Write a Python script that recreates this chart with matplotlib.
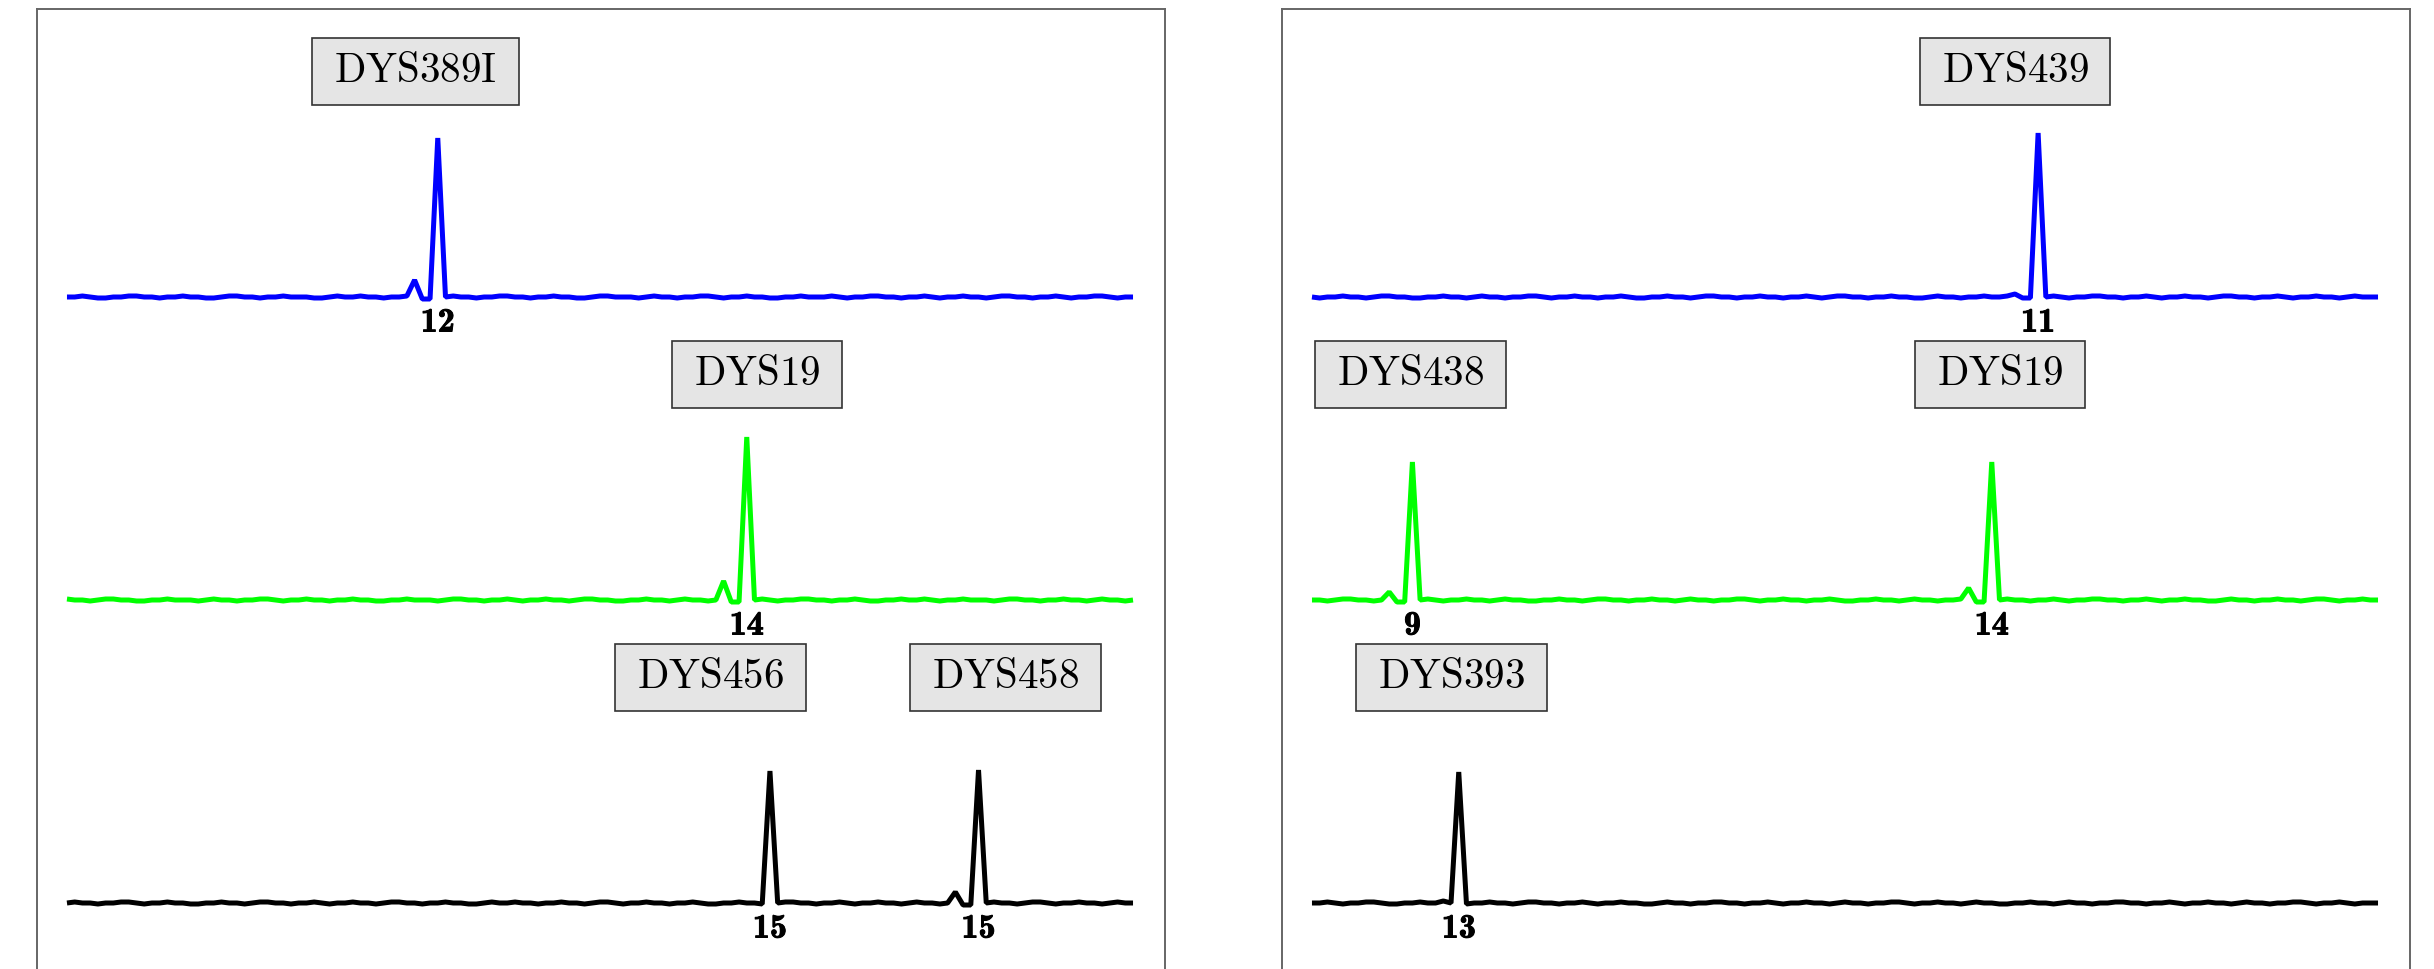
import matplotlib
matplotlib.use("Agg")
import matplotlib.pyplot as plt
import matplotlib.patheffects as pe
from matplotlib.patches import Rectangle

plt.rcParams["mathtext.fontset"] = "cm"

# baseline wiggle of each channel, one value per scan point (heights in RFU-ish units)
l_blue_noise = [0, 0, 1, 0, -1, -1, 0, 0, 1, 1, 0, 0, -1, 0, 0, 1, 0, 0, -1, -1,
                0, 1, 1, 0, 0, -1, 0, 0, 1, 0, 0, 0, -1, -1, 0, 1, 0, 0, 1, 0,
                0, -1, 0, 0, 1, 0, -2, -2, 0, 0, 1, 0, 0, -1, 0, 0, 1, 1, 0, 0,
                -1, 0, 0, 1, 0, 0, -1, -1, 0, 1, 1, 0, 0, 0, -1, 0, 1, 0, 0, -1,
                0, 0, 1, 1, 0, -1, 0, 0, 1, 0, 0, -1, -1, 0, 0, 1, 0, 0, 0, 1,
                0, -1, 0, 0, 1, 1, 0, 0, -1, 0, 0, 1, 0, -1, 0, 0, 1, 0, 0, -1,
                0, 1, 1, 0, 0, -1, 0, 0, 1, 0, -1, 0, 0, 1, 1, 0, -1, 0, 0]
l_green_noise = [1, 0, 0, -1, 0, 1, 1, 0, 0, -1, -1, 0, 0, 1, 0, 0, 0, -1, 0, 1,
                 0, 0, -1, 0, 0, 1, 1, 0, -1, 0, 0, 1, 0, 0, -1, 0, 0, 1, 0, 0,
                 -1, -1, 0, 0, 1, 0, 0, 0, -1, 0, 1, 1, 0, 0, -1, 0, 0, 1, 0, -1,
                 0, 0, 1, 0, 0, -1, 0, 1, 1, 0, 0, -1, -1, 0, 0, 1, 0, 0, -1, 0,
                 1, 0, 0, -1, 0, 0, -2, -2, 0, 0, 1, 0, -1, 0, 0, 1, 1, 0, 0, -1,
                 0, 0, 1, 0, -1, -1, 0, 0, 1, 0, 0, 1, 0, -1, 0, 0, 1, 0, 0, 0,
                 -1, 0, 1, 1, 0, 0, -1, 0, 0, 1, 0, 0, -1, 0, 1, 0, 0, -1, 0]
l_black_noise = [0, 1, 0, 0, -1, 0, 0, 1, 1, 0, -1, 0, 0, 1, 0, 0, -1, -1, 0, 0,
                 1, 0, 0, -1, 0, 1, 1, 0, 0, -1, 0, 0, 1, 0, -1, 0, 0, 1, 0, 0,
                 -1, 0, 1, 1, 0, 0, -1, 0, 0, 1, 0, 0, -1, -1, 0, 1, 0, 0, 1, 0,
                 0, -1, 0, 0, 1, 0, 0, -1, 0, 1, 1, 0, -1, 0, 0, 1, 0, 0, -1, 0,
                 0, 1, 0, -1, -1, 0, 0, 1, 0, 0, -1, 0, 0, 1, 1, 0, 0, -1, 0, 0,
                 1, 0, -1, 0, 0, 1, 0, 0, -1, 0, 1, 0, 0, -1, 0, 0, -2, -2, 0, 0,
                 1, 0, 0, -1, 0, 1, 1, 0, -1, 0, 0, 1, 0, 0, -1, 0, 1, 0, 0]
r_blue_noise = [0, -1, 0, 0, 1, 0, 0, -1, 0, 1, 1, 0, 0, -1, -1, 0, 0, 1, 0, 0,
                -1, 0, 1, 0, 0, -1, 0, 0, 1, 1, 0, -1, 0, 0, 1, 0, 0, -1, 0, 0,
                1, 0, -1, -1, 0, 0, 1, 0, 0, -1, 0, 1, 1, 0, 0, -1, 0, 0, 1, 0,
                0, -1, 0, 0, 1, 0, -1, 0, 1, 1, 0, 0, -1, 0, 0, 1, 0, 0, -1, -1,
                0, 1, 0, 0, -1, 0, 0, 1, 0, 0, 1, 0, -1, -1, 0, 0, 1, 0, -1, 0,
                0, 1, 1, 0, 0, -1, 0, 0, 1, 0, -1, 0, 0, 1, 0, 0, -1, 0, 1, 1,
                0, 0, -1, 0, 0, 1, 0, -1, 0, 0, 1, 0, 0, -1, 0, 1, 0, 0, 0]
r_green_noise = [0, 0, -1, 0, 1, 1, 0, 0, -1, 0, 0, -2, -2, 0, 0, 1, 0, -1, 0, 0,
                 1, 0, 0, -1, 0, 1, 0, 0, -1, -1, 0, 0, 1, 0, 0, -1, 0, 1, 1, 0,
                 0, -1, 0, 0, 1, 0, 0, -1, 0, 1, 0, 0, -1, 0, 0, 1, 1, 0, -1, 0,
                 0, 1, 0, 0, -1, 0, 0, 1, 0, -1, -1, 0, 0, 1, 0, 0, -1, 0, 1, 0,
                 0, -1, 0, 0, 1, 0, -2, -2, 0, 0, 1, 0, 0, -1, 0, 0, 1, 0, -1, 0,
                 0, 1, 1, 0, 0, -1, 0, 0, 1, 0, -1, 0, 0, 1, 0, 0, -1, -1, 0, 1,
                 0, 0, -1, 0, 0, 1, 0, 0, -1, 0, 1, 1, 0, -1, 0, 0, 1, 0, 0]
r_black_noise = [0, 0, 1, 0, -1, 0, 0, 1, 1, 0, -1, -1, 0, 0, 1, 0, 0, 2, 0, 0,
                 -1, 0, 0, 1, 0, 0, -1, 0, 1, 1, 0, 0, -1, 0, 0, 1, 0, -1, 0, 0,
                 1, 0, 0, -1, -1, 0, 1, 0, 0, -1, 0, 0, 1, 1, 0, 0, -1, 0, 0, 1,
                 0, -1, 0, 0, 1, 0, 0, -1, 0, 1, 0, 0, -1, 0, 0, 1, 1, 0, -1, 0,
                 0, 1, 0, 0, -1, 0, 1, 0, 0, -1, -1, 0, 0, 1, 0, 0, -1, 0, 1, 0,
                 0, -1, 0, 0, 1, 1, 0, 0, -1, 0, 0, 1, 0, -1, 0, 0, 1, 0, 0, -1,
                 0, 1, 0, 0, -1, 0, 0, 1, 1, 0, -1, 0, 0, 1, 0, -1, 0, 0, 0]

# allele peaks: (scan point, height, allele call)
l_blue_peaks = [(48, 159, "12")]
l_green_peaks = [(88, 163, "14")]
l_black_peaks = [(91, 132, "15"), (118, 133, "15")]
r_blue_peaks = [(94, 164, "11")]
r_green_peaks = [(13, 138, "9"), (88, 138, "14")]
r_black_peaks = [(19, 131, "13")]

# stutter peaks: (scan point, height)
l_blue_stutter = [(45, 17)]
l_green_stutter = [(85, 19)]
l_black_stutter = [(115, 11)]
r_blue_stutter = [(91, 3)]
r_green_stutter = [(10, 8), (85, 12)]
r_black_stutter = []

# marker names and where they sit
l_blue_markers = [("DYS389I", 45.1)]
l_green_markers = [("DYS19", 89.3)]
l_black_markers = [("DYS456", 83.3), ("DYS458", 121.5)]
r_blue_markers = [("DYS439", 91.0)]
r_green_markers = [("DYS438", 12.7), ("DYS19", 89.1)]
r_black_markers = [("DYS393", 18.1)]


def build_trace(noise, peaks, stutter):
    y = list(noise)
    for pos, h, _ in peaks:
        y[pos] += h
    for pos, h in stutter:
        y[pos] += h
    return list(range(len(y))), y


fig = plt.figure(figsize=(12.17, 4.845), dpi=200)

offsets = {"#0000ff": 703, "#00ff00": 400, "black": 97}

panels = [
    (37 / 2434, [("#0000ff", l_blue_noise, l_blue_peaks, l_blue_stutter, l_blue_markers),
                 ("#00ff00", l_green_noise, l_green_peaks, l_green_stutter, l_green_markers),
                 ("black", l_black_noise, l_black_peaks, l_black_stutter, l_black_markers)]),
    (1282 / 2434, [("#0000ff", r_blue_noise, r_blue_peaks, r_blue_stutter, r_blue_markers),
                   ("#00ff00", r_green_noise, r_green_peaks, r_green_stutter, r_green_markers),
                   ("black", r_black_noise, r_black_peaks, r_black_stutter, r_black_markers)]),
]

bold = [pe.withStroke(linewidth=0.35, foreground="black")]
name_texts = []

for left, channels in panels:
    ax = fig.add_axes([left, -31 / 969, 1128 / 2434, 991 / 969])
    for color, noise, peaks, stutter, markers in channels:
        off = offsets[color]
        x, y = build_trace(noise, peaks, stutter)
        ax.plot(x, [v + off for v in y], color=color, lw=1.8,
                solid_joinstyle="bevel", solid_capstyle="butt")
        for pos, h, allele in peaks:
            ax.text(pos, off - 26, allele, family="cmb10", fontsize=12.3,
                    ha="center", va="center", path_effects=bold)
        for name, pos in markers:
            t = ax.text(pos, off + 226, r"$\mathrm{" + name + "}$", fontsize=14.8,
                        ha="center", va="center", zorder=5)
            name_texts.append((ax, t))
    ax.set_xlim(-3.88, 142.14)
    ax.set_ylim(0, 991)
    ax.set_xticks([])
    ax.set_yticks([])
    for s in ax.spines.values():
        s.set_color("#666666")
        s.set_linewidth(0.7)

# grey label boxes sized around the rendered marker names (pixels at 200 dpi)
fig.canvas.draw()
for ax, t in name_texts:
    bb = t.get_window_extent()
    yc = (bb.y0 + bb.y1) / 2
    inv = ax.transData.inverted()
    (x0, y0), (x1, y1) = inv.transform([(bb.x0 - 22, yc - 33.5), (bb.x1 + 22, yc + 33.5)])
    ax.add_patch(Rectangle((x0, y0), x1 - x0, y1 - y0, facecolor="#e5e5e5",
                           edgecolor="#333333", linewidth=0.6, zorder=4))

fig.savefig("out.png", dpi=200)
